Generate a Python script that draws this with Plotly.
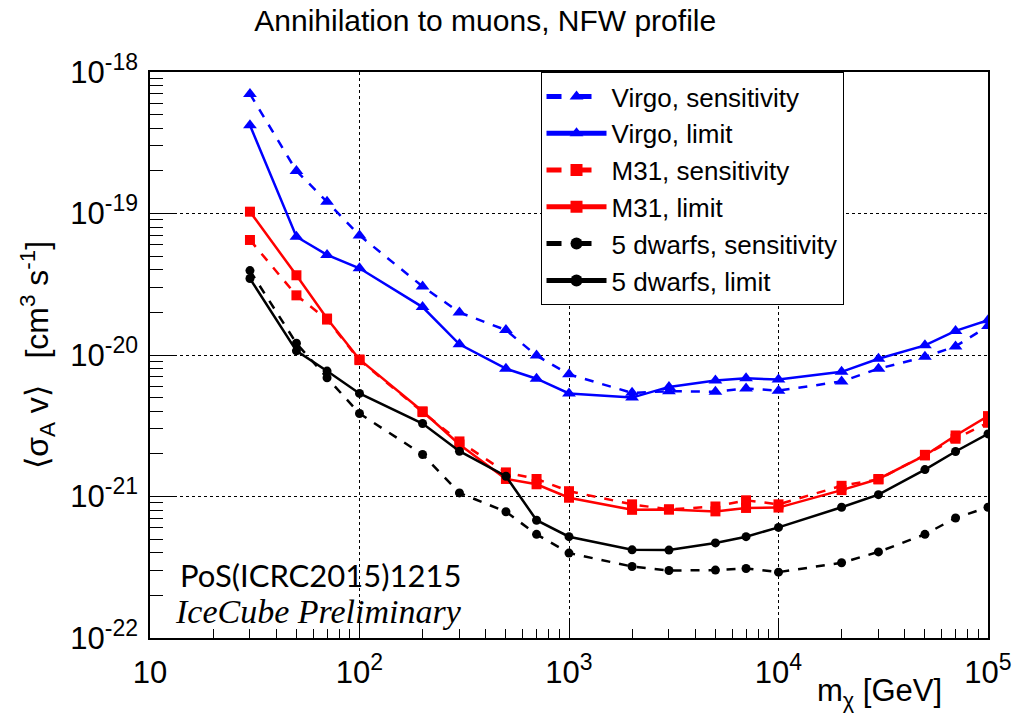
import plotly.graph_objects as go

# Dark-matter mass points (GeV)
mass = [30, 50, 70, 100, 200, 300, 500, 700, 1000, 2000, 3000, 5000, 7000,
        10000, 20000, 30000, 50000, 70000, 100000]

# <sigma_A v> upper limits / sensitivities (cm^3 s^-1)
virgo_sens = [7.0e-19, 2.0e-19, 1.21e-19, 7.0e-20, 3.05e-20, 2.0e-20, 1.5e-20, 9.9e-21,
              7.3e-21, 5.4e-21, 5.55e-21, 5.5e-21, 5.8e-21, 5.6e-21, 6.5e-21, 8.0e-21,
              9.7e-21, 1.15e-20, 1.6e-20]
virgo_limit = [4.2e-19, 6.85e-20, 5.1e-20, 4.1e-20, 2.18e-20, 1.19e-20, 8.0e-21, 6.8e-21,
               5.35e-21, 5.0e-21, 5.95e-21, 6.6e-21, 6.85e-21, 6.7e-21, 7.6e-21, 9.4e-21,
               1.17e-20, 1.48e-20, 1.76e-20]
m31_sens = [6.5e-20, 2.64e-20, 1.78e-20, 9.2e-21, 3.95e-21, 2.45e-21, 1.48e-21, 1.33e-21,
            1.09e-21, 8.8e-22, 8.1e-22, 8.5e-22, 9.4e-22, 8.8e-22, 1.19e-21, 1.32e-21,
            1.97e-21, 2.56e-21, 3.32e-21]
m31_limit = [1.03e-19, 3.66e-20, 1.81e-20, 9.3e-21, 4.0e-21, 2.33e-21, 1.33e-21, 1.22e-21,
             9.8e-22, 8.05e-22, 8.1e-22, 7.85e-22, 8.3e-22, 8.35e-22, 1.11e-21, 1.33e-21,
             1.95e-21, 2.7e-21, 3.7e-21]
dwarf_sens = [3.95e-20, 1.21e-20, 6.9e-21, 3.86e-21, 1.98e-21, 1.06e-21, 7.8e-22, 5.4e-22,
              3.98e-22, 3.2e-22, 3.0e-22, 3.02e-22, 3.1e-22, 2.92e-22, 3.4e-22, 4.06e-22,
              5.4e-22, 7.05e-22, 8.4e-22]
dwarf_limit = [3.47e-20, 1.07e-20, 7.7e-21, 5.35e-21, 3.28e-21, 2.09e-21, 1.39e-21, 6.8e-22,
               5.2e-22, 4.2e-22, 4.18e-22, 4.7e-22, 5.2e-22, 6.05e-22, 8.4e-22, 1.03e-21,
               1.55e-21, 2.08e-21, 2.77e-21]

x_ticks = [10, 100, 1000, 10000, 100000]
x_exps = ["", "2", "3", "4", "5"]
y_ticks = [1e-22, 1e-21, 1e-20, 1e-19, 1e-18]
y_exps = ["-22", "-21", "-20", "-19", "-18"]


def power_label(exp):
    if not exp:
        return "10"
    return f"10<sup><span style='font-size:23px'>{exp}</span></sup>"


x_ticktext = [power_label(e) for e in x_exps]
y_ticktext = [power_label(e) for e in y_exps]

series = [
    ("Virgo, sensitivity", virgo_sens, "#0000ff", "dash", "triangle-up", 12),
    ("Virgo, limit", virgo_limit, "#0000ff", "solid", "triangle-up", 12),
    ("M31, sensitivity", m31_sens, "#ff0000", "dash", "square", 10),
    ("M31, limit", m31_limit, "#ff0000", "solid", "square", 10),
    ("5 dwarfs, sensitivity", dwarf_sens, "#000000", "dash", "circle", 9),
    ("5 dwarfs, limit", dwarf_limit, "#000000", "solid", "circle", 9),
]

fig = go.Figure()
for i, (name, vals, color, dash, symbol, size) in enumerate(series):
    fig.add_trace(go.Scatter(
        x=mass, y=vals, name=name, mode="lines+markers", legendgroup=f"g{i}",
        line=dict(color=color, width=2.5, dash=dash),
        marker=dict(color=color, symbol=symbol, size=size),
    ))

def minor_vals(lo, hi):
    out = []
    for e in range(lo, hi):
        out += [k * 10.0 ** e for k in range(2, 10)]
    return out

SANS = "Liberation Sans, Arial, sans-serif"
tick_font = dict(family=SANS, size=31, color="black")

fig.update_xaxes(
    type="log", range=[1, 5], automargin=False,
    tickmode="array", tickvals=x_ticks, ticktext=x_ticktext,
    tickfont=tick_font, ticklabelstandoff=6,
    ticks="inside", ticklen=18, tickwidth=1, tickcolor="black",
    minor=dict(tickmode="array", tickvals=minor_vals(1, 5), ticks="inside",
               ticklen=9, tickwidth=1, tickcolor="black", showgrid=False),
    showline=True, linecolor="black", linewidth=1.5, mirror=True,
    showgrid=True, gridcolor="black", griddash="dot", gridwidth=1,
    zeroline=False,
)
fig.update_yaxes(
    type="log", range=[-22, -18], automargin=False,
    tickmode="array", tickvals=y_ticks, ticktext=y_ticktext,
    tickfont=tick_font, ticklabelstandoff=4,
    ticks="inside", ticklen=25, tickwidth=1, tickcolor="black",
    minor=dict(tickmode="array", tickvals=minor_vals(-22, -18), ticks="inside",
               ticklen=13, tickwidth=1, tickcolor="black", showgrid=False),
    showline=True, linecolor="black", linewidth=1.5, mirror=True,
    showgrid=True, gridcolor="black", griddash="dot", gridwidth=1,
    zeroline=False,
)

fig.update_layout(
    width=1013, height=721,
    margin=dict(l=150, r=25, t=72, b=83),
    paper_bgcolor="white", plot_bgcolor="white",
    title=dict(text="Annihilation to muons, NFW profile", x=0.479, xanchor="center",
               xref="container", y=0.971, yanchor="middle", automargin=False,
               font=dict(family=SANS, size=30, color="black")),
    showlegend=True,
    legend=dict(x=0.466, y=1.0, xanchor="left", yanchor="top",
                bgcolor="white", bordercolor="black", borderwidth=1,
                font=dict(family=SANS, size=26, color="black"),
                itemwidth=60, tracegroupgap=0, itemsizing="constant"),
    annotations=[
        dict(text="\u27e8\u03c3<sub>A</sub> v\u27e9   [cm<sup>3</sup> s<sup>-1</sup>]",
             xref="paper", yref="paper", x=-0.135, y=0.5,
             xanchor="center", yanchor="middle", textangle=-90, showarrow=False,
             font=dict(family=SANS, size=32, color="black")),
        dict(text="m<sub>\u03c7</sub> [GeV]", xref="paper", yref="paper",
             x=0.9475, y=-0.097, xanchor="right", yanchor="middle", showarrow=False,
             font=dict(family=SANS, size=31, color="black")),
        dict(text="PoS(ICRC2015)1215", xref="paper", yref="paper",
             x=0.034, y=0.112, xanchor="left", yanchor="middle", showarrow=False,
             font=dict(family="Lato, Open Sans, sans-serif", size=31, color="black")),
        dict(text="<i>IceCube Preliminary</i>", xref="paper", yref="paper",
             x=0.027, y=0.046, xanchor="left", yanchor="middle", showarrow=False,
             font=dict(family="Liberation Serif, Times New Roman, serif", size=34, color="black")),
    ],
)

fig.write_html("out.html")
